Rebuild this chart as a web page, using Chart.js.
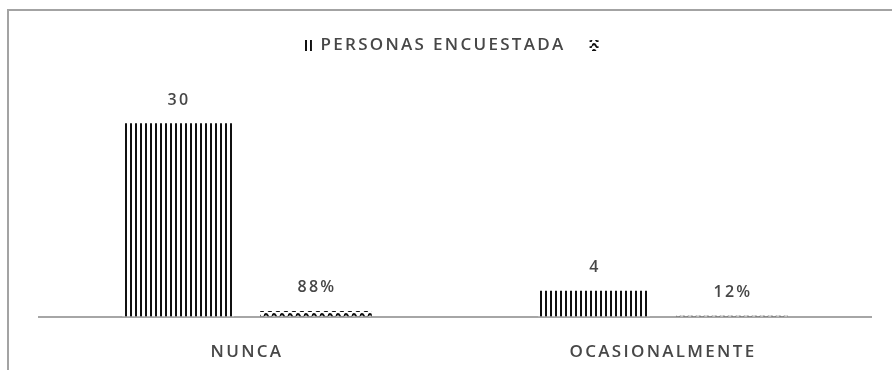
<!DOCTYPE html>
<html>
<head>
<meta charset="utf-8">
<script src="https://cdn.jsdelivr.net/npm/chart.js@4.4.1/dist/chart.umd.min.js"></script>
<style>
  html, body { margin: 0; padding: 0; background: #fff; overflow: hidden; }
  #wrap { position: relative; width: 892px; height: 370px; }
  #frame { position: absolute; left: 7px; top: 9px; width: 920px; height: 400px; border: 2px solid #a3a3a3; box-sizing: border-box; pointer-events: none; }
  canvas { position: absolute; left: 0; top: 0; }
</style>
</head>
<body>
<div id="wrap">
  <canvas id="encuestaChart" width="892" height="370"></canvas>
  <div id="frame"></div>
</div>
<script>
// datos de la encuesta
const categorias = ['NUNCA', 'OCASIONALMENTE'];
const personas = [30, 4];
const porcentajes = [0.88, 0.12];
const serieNombre = 'PERSONAS ENCUESTADA';

const texto = '#474747';
const fuente = 'Open Sans';

// relleno de rayas verticales
function rayas() {
  const c = document.createElement('canvas');
  c.width = 5; c.height = 10;
  const g = c.getContext('2d');
  g.fillStyle = '#fff'; g.fillRect(0, 0, 5, 10);
  g.fillStyle = '#111'; g.fillRect(0, 0, 2, 10);
  return g.createPattern(c, 'repeat');
}

// relleno ondulado
function ondas() {
  const c = document.createElement('canvas');
  c.width = 8; c.height = 6;
  const g = c.getContext('2d');
  g.fillStyle = '#fff'; g.fillRect(0, 0, 8, 6);
  g.strokeStyle = '#111'; g.lineWidth = 1.8;
  g.beginPath();
  g.moveTo(0, 4);
  g.quadraticCurveTo(2, 0, 4, 4);
  g.quadraticCurveTo(6, 7, 8, 4);
  g.stroke();
  return g.createPattern(c, 'repeat');
}

// espaciado de letras como en la hoja original
const espaciado = {
  id: 'espaciado',
  beforeLayout(chart) { chart.ctx.letterSpacing = '2.3px'; },
  beforeDraw(chart) { chart.ctx.letterSpacing = '2.3px'; }
};

// etiquetas de valor sobre cada barra
const etiquetas = {
  id: 'etiquetas',
  afterDatasetsDraw(chart) {
    const ctx = chart.ctx;
    ctx.save();
    ctx.font = '600 16px "' + fuente + '"';
    ctx.fillStyle = texto;
    ctx.textAlign = 'center';
    ctx.textBaseline = 'middle';
    chart.data.datasets.forEach((ds, i) => {
      chart.getDatasetMeta(i).data.forEach((bar, j) => {
        const v = ds.data[j];
        const txt = i === 1 ? Math.round(v * 100) + '%' : String(v);
        ctx.fillText(txt, bar.x + 1, bar.y - 23);
      });
    });
    ctx.restore();
  }
};

const ctx = document.getElementById('encuestaChart').getContext('2d');

new Chart(ctx, {
  type: 'bar',
  data: {
    labels: categorias,
    datasets: [
      { label: serieNombre, data: personas, backgroundColor: rayas(), borderWidth: 0 },
      { label: '', data: porcentajes, backgroundColor: ondas(), borderWidth: 0 }
    ]
  },
  options: {
    responsive: false,
    animation: false,
    categoryPercentage: 0.663,
    barPercentage: 0.81,
    layout: { padding: { left: 39, right: 21, top: 13, bottom: -17 } },
    plugins: {
      legend: {
        position: 'top',
        labels: {
          boxWidth: 9,
          boxHeight: 11,
          padding: 24,
          color: texto,
          font: { family: fuente, size: 17, weight: '600' }
        }
      },
      tooltip: { enabled: false }
    },
    scales: {
      x: {
        grid: { display: false, drawTicks: false },
        border: { color: '#a6a6a6', width: 2 },
        ticks: { color: texto, font: { family: fuente, size: 17, weight: '600' }, padding: 25 }
      },
      y: { display: false, min: 0, max: 39.2 }
    }
  },
  plugins: [espaciado, etiquetas]
});
</script>
</body>
</html>
